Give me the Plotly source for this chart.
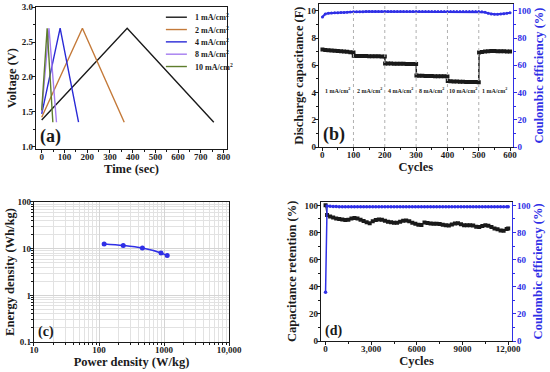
import plotly.graph_objects as go

# ---------------- data ----------------
# (a) galvanostatic charge/discharge
gcd_labels = ["1 mA/cm<sup>2</sup>", "2 mA/cm<sup>2</sup>", "4 mA/cm<sup>2</sup>",
              "8 mA/cm<sup>2</sup>", "10 mA/cm<sup>2</sup>"]
gcd_colors = ["#1a1a1a", "#c47a3a", "#2a2ad6", "#a47cf0", "#5e7d2c"]
gcd_time = [[0, 376, 757], [0, 179, 363], [0, 81, 162], [0, 32, 65], [0, 24, 49]]
gcd_volt = [[1.38, 2.70, 1.35], [1.42, 2.70, 1.35], [1.47, 2.70, 1.35],
            [1.50, 2.70, 1.35], [1.52, 2.70, 1.35]]

# (b) rate capability
rate_labels = ["1 mA/cm<sup>2</sup>", "2 mA/cm<sup>2</sup>", "4 mA/cm<sup>2</sup>",
               "8 mA/cm<sup>2</sup>", "10 mA/cm<sup>2</sup>", "1 mA/cm<sup>2</sup>"]
rate_boundaries = [100, 200, 300, 400, 500]
rate_label_cycles = [50, 150, 250, 350, 450, 550]
cap_seg_cycles = [[1, 10, 20, 30, 40, 50, 60, 70, 80, 90, 100],
                  [101, 110, 120, 130, 140, 150, 160, 170, 180, 190, 200],
                  [201, 210, 220, 230, 240, 250, 260, 270, 280, 290, 300],
                  [301, 310, 320, 330, 340, 350, 360, 370, 380, 390, 400],
                  [401, 410, 420, 430, 440, 450, 460, 470, 480, 490, 500],
                  [501, 510, 520, 530, 540, 550, 560, 570, 580, 590, 600]]
cap_seg_values = [[7.17, 7.13, 7.11, 7.09, 7.07, 7.05, 7.03, 7.01, 6.99, 6.97, 6.95],
                  [6.70, 6.69, 6.69, 6.68, 6.68, 6.67, 6.67, 6.66, 6.66, 6.65, 6.65],
                  [6.14, 6.13, 6.13, 6.12, 6.12, 6.11, 6.11, 6.10, 6.10, 6.10, 6.09],
                  [5.25, 5.24, 5.23, 5.22, 5.21, 5.21, 5.20, 5.20, 5.19, 5.19, 5.18],
                  [4.85, 4.83, 4.82, 4.81, 4.80, 4.79, 4.78, 4.78, 4.77, 4.77, 4.76],
                  [6.95, 6.98, 7.01, 7.03, 7.05, 7.05, 7.04, 7.04, 7.03, 7.02, 7.01]]
ce_b_cycles = [1, 10, 20, 30, 40, 50, 60, 70, 80, 90, 100,
               110, 120, 130, 140, 150, 160, 170, 180, 190, 200,
               210, 220, 230, 240, 250, 260, 270, 280, 290, 300,
               310, 320, 330, 340, 350, 360, 370, 380, 390, 400,
               410, 420, 430, 440, 450, 460, 470, 480, 490, 500,
               510, 520, 530, 540, 550, 560, 570, 580, 590, 600]
ce_b_values = [95.5, 97.8, 98.3, 98.5, 98.6, 98.7, 98.8, 98.9, 99.0, 99.1, 99.3,
               99.4, 99.4, 99.4, 99.5, 99.5, 99.5, 99.5, 99.5, 99.5, 99.5,
               99.5, 99.5, 99.5, 99.5, 99.5, 99.5, 99.5, 99.5, 99.5, 99.5,
               99.5, 99.5, 99.5, 99.5, 99.5, 99.5, 99.5, 99.5, 99.5, 99.5,
               99.5, 99.5, 99.5, 99.5, 99.5, 99.5, 99.5, 99.5, 99.5, 99.5,
               99.4, 99.0, 98.3, 97.8, 97.6, 97.6, 97.7, 97.9, 98.3, 98.6]

# (c) Ragone plot
power_density = [120, 236, 465, 900, 1120]
energy_density = [12.6, 11.7, 10.3, 8.1, 7.1]

# (d) cycling stability
cycles_d = [0, 100, 300, 500, 700, 900, 1100, 1300, 1500, 1700, 1900,
            2100, 2300, 2500, 2700, 2900, 3100, 3300, 3500, 3700, 3900,
            4100, 4300, 4500, 4700, 4900, 5100, 5300, 5500, 5700, 5900,
            6100, 6300, 6500, 6700, 6900, 7100, 7300, 7500, 7700, 7900,
            8100, 8300, 8500, 8700, 8900, 9100, 9300, 9500, 9700, 9900,
            10100, 10300, 10500, 10700, 10900, 11100, 11300, 11500, 11700, 11900, 12000]
retention_d = [100.0, 92.9, 91.8, 91.0, 90.4, 90.0, 89.6, 89.2, 89.4, 90.4, 90.7,
               90.3, 89.4, 88.5, 87.5, 86.8, 88.3, 89.2, 89.6, 89.4, 88.6,
               88.0, 87.6, 87.2, 87.2, 88.0, 88.6, 88.8, 88.3, 87.2, 86.4,
               85.8, 85.5, 87.4, 87.0, 86.7, 86.5, 86.4, 86.2, 85.8, 85.3,
               85.2, 85.9, 86.6, 86.8, 86.0, 85.4, 85.3, 85.3, 85.1, 84.3,
               84.0, 84.8, 85.3, 84.9, 84.0, 83.0, 82.3, 81.5, 81.3, 82.5, 83.0]
ce_d = [36.0, 99.6, 99.4, 99.2, 99.1, 99.0, 99.0, 99.0, 99.0, 99.0, 99.0,
        99.0, 99.0, 99.0, 99.0, 99.0, 99.0, 99.0, 99.0, 99.0, 99.0,
        99.0, 99.0, 99.0, 99.0, 99.0, 99.0, 99.0, 99.0, 99.0, 99.0,
        99.0, 99.0, 99.0, 99.0, 99.0, 99.0, 99.0, 99.0, 99.0, 99.0,
        99.0, 99.0, 99.0, 99.0, 99.0, 99.0, 99.0, 99.0, 99.0, 99.0,
        99.0, 99.0, 99.0, 99.0, 99.0, 99.0, 99.0, 99.0, 99.0, 99.0, 99.0]

# ---------------- styling ----------------
FONT = "Liberation Serif"
BLACK = "#1a1a1a"
BLUE = "#2f2fe6"
TICKF = dict(family=FONT, size=9, color=BLACK, weight="bold")
TITLEF = dict(family=FONT, size=12.5, color=BLACK, weight="bold")

fig = go.Figure()

# (a)
for lab, col, t, v in zip(gcd_labels, gcd_colors, gcd_time, gcd_volt):
    fig.add_trace(go.Scatter(x=t, y=v, mode="lines", name=lab, showlegend=False,
                             line=dict(color=col, width=1.4),
                             xaxis="x", yaxis="y"))

# (b)
for i, (cx, cv) in enumerate(zip(cap_seg_cycles, cap_seg_values)):
    fig.add_trace(go.Scatter(x=cx, y=cv, mode="lines+markers", showlegend=False,
                             line=dict(color=BLACK, width=1.5),
                             marker=dict(symbol="square", size=4, color=BLACK),
                             xaxis="x2", yaxis="y2"))
for i in range(len(cap_seg_cycles) - 1):
    fig.add_trace(go.Scatter(x=[cap_seg_cycles[i][-1], cap_seg_cycles[i + 1][0]],
                             y=[cap_seg_values[i][-1], cap_seg_values[i + 1][0]],
                             mode="lines", showlegend=False,
                             line=dict(color=BLACK, width=1.5),
                             xaxis="x2", yaxis="y2"))
fig.add_trace(go.Scatter(x=ce_b_cycles, y=ce_b_values, mode="lines+markers", showlegend=False,
                         line=dict(color=BLUE, width=2),
                         marker=dict(symbol="circle", size=3, color=BLUE),
                         xaxis="x2", yaxis="y3"))

# (c)
fig.add_trace(go.Scatter(x=power_density, y=energy_density, mode="lines+markers",
                         showlegend=False, line=dict(color=BLUE, width=1.5, shape="spline"),
                         marker=dict(symbol="circle", size=5, color=BLUE),
                         xaxis="x3", yaxis="y4"))

# (d)
fig.add_trace(go.Scatter(x=cycles_d, y=retention_d, mode="lines+markers", showlegend=False,
                         line=dict(color=BLACK, width=1),
                         marker=dict(symbol="square", size=4, color=BLACK),
                         xaxis="x4", yaxis="y5"))
fig.add_trace(go.Scatter(x=cycles_d, y=ce_d, mode="lines+markers", showlegend=False,
                         line=dict(color=BLUE, width=1.5),
                         marker=dict(symbol="circle", size=3.5, color=BLUE),
                         xaxis="x4", yaxis="y6"))


def ax(domain, rng, title, standoff, dtick=None, minor_dtick=None, color=BLACK,
       mirror=True, lab_off=-3, **kw):
    d = dict(domain=domain, range=rng, automargin=False,
             title=dict(text=title, font=dict(TITLEF, color=color), standoff=standoff),
             showline=True, linecolor=color, linewidth=1.3, mirror=mirror,
             ticks="outside", ticklen=3, tickwidth=1, tickcolor=color,
             ticklabelstandoff=lab_off,
             tickfont=dict(TICKF, color=color), showgrid=False, zeroline=False)
    if dtick is not None:
        d["dtick"] = dtick
    if minor_dtick is not None:
        d["minor"] = dict(dtick=minor_dtick, ticks="outside", ticklen=2, tickcolor=color)
    d.update(kw)
    return d


fig.update_layout(
    template="none",
    width=550, height=372, margin=dict(l=0, r=0, t=0, b=0, pad=0),
    paper_bgcolor="white", plot_bgcolor="white", showlegend=False,
    font=dict(family=FONT, color=BLACK),
    xaxis=ax([0.0655, 0.4127], [-25, 815], "Time (sec)", 0, dtick=100, minor_dtick=50,
             lab_off=-4, anchor="y"),
    yaxis=ax([0.5995, 0.9804], [0.965, 3.0], "Voltage (V)", 2, dtick=0.5, minor_dtick=0.25,
             tickformat=".1f", anchor="x"),
    xaxis2=ax([0.58, 0.932], [-10, 608], "Cycles", 2, dtick=100, minor_dtick=50,
              lab_off=-4, anchor="y2"),
    yaxis2=ax([0.6048, 0.989], [0, 10.5], "Discharge capacitance (F)", 0, dtick=2,
              minor_dtick=1, mirror=False, anchor="x2"),
    yaxis3=ax([0.6048, 0.989], [0, 105], "Coulombic efficiency (%)", 2, dtick=20,
              minor_dtick=10, color=BLUE, mirror=False, overlaying="y2", side="right",
              lab_off=-1, anchor="x2"),
    xaxis3=ax([0.0618, 0.4164], [1, 4], "Power density (W/kg)", 1, type="log",
              tickvals=[10, 100, 1000, 10000], ticktext=["10", "100", "1000", "10,000"],
              showgrid=True, gridcolor="#d4d4d4", gridwidth=0.7, lab_off=-4,
              minor=dict(dtick="D1", showgrid=True, gridcolor="#e2e2e2", gridwidth=0.6,
                         ticks="outside", ticklen=2, tickcolor=BLACK),
              anchor="y4"),
    yaxis4=ax([0.0806, 0.457], [-1, 2], "Energy density (Wh/kg)", 0, type="log",
              tickvals=[0.1, 1, 10, 100], ticktext=["0.1", "1", "10", "100"],
              showgrid=True, gridcolor="#d4d4d4", gridwidth=0.7,
              minor=dict(dtick="D1", showgrid=True, gridcolor="#e2e2e2", gridwidth=0.6,
                         ticks="outside", ticklen=2, tickcolor=BLACK),
              anchor="x3"),
    xaxis4=ax([0.5836, 0.9309], [-300, 12250], "Cycles", 1,
              tickvals=[0, 3000, 6000, 9000, 12000],
              ticktext=["0", "3,000", "6000", "9000", "12,000"], lab_off=-4,
              minor=dict(dtick=1500, tick0=0, ticks="outside", ticklen=2, tickcolor=BLACK),
              anchor="y5"),
    yaxis5=ax([0.0833, 0.4578], [0, 102.7], "Capacitance retention (%)", 5, dtick=20,
              minor_dtick=10, mirror=False, anchor="x4"),
    yaxis6=ax([0.0833, 0.4578], [0, 102.7], "Coulombic efficiency (%)", 2, dtick=20,
              minor_dtick=10, color=BLUE, mirror=False, overlaying="y5", side="right",
              lab_off=-1, anchor="x4"),
)

# legend for (a): short line keys + labels, stacked from the top of the panel
LEG_X0, LEG_X1, LEG_TX = 0.68, 0.79, 0.82   # fractions of panel-a width
LEG_Y0, LEG_DY = 0.93, 0.087                # fractions of panel-a height
for i, (lab, col) in enumerate(zip(gcd_labels, gcd_colors)):
    yy = LEG_Y0 - i * LEG_DY
    fig.add_shape(type="line", xref="x domain", yref="y domain",
                  x0=LEG_X0, x1=LEG_X1, y0=yy, y1=yy, line=dict(color=col, width=1.4))
    fig.add_annotation(x=LEG_TX, y=yy, xref="x domain", yref="y domain", text=lab,
                       showarrow=False, xanchor="left", yanchor="middle",
                       font=dict(family=FONT, size=8, color=BLACK, weight="bold"))

# dotted dividers in (b)
for bnd in rate_boundaries:
    fig.add_shape(type="line", xref="x2", yref="y2 domain", x0=bnd, x1=bnd, y0=0, y1=1,
                  line=dict(color="#b0b0b0", width=1, dash="dot"))

# rate labels in (b)
for lab, cx in zip(rate_labels, rate_label_cycles):
    fig.add_annotation(x=cx, y=4.2, xref="x2", yref="y2", text=lab, showarrow=False,
                       font=dict(family=FONT, size=6, color=BLACK, weight="bold"))

# panel letters
panel_letters = [("(a)", "x domain", "y domain", 18),
                 ("(b)", "x2 domain", "y2 domain", 18),
                 ("(c)", "x3 domain", "y4 domain", 14),
                 ("(d)", "x4 domain", "y5 domain", 14)]
for txt, xr, yr, sz in panel_letters:
    fig.add_annotation(x=0.01, y=0.0, xref=xr, yref=yr, text=txt, showarrow=False,
                       xanchor="left", yanchor="bottom",
                       font=dict(family=FONT, size=sz, color=BLACK, weight="bold"))

# the page's default body margin would shift the 550x372 figure; remove it
fig.write_html("out.html", config={"displayModeBar": False},
               post_script="document.body.style.margin='0';document.body.style.padding='0';")
